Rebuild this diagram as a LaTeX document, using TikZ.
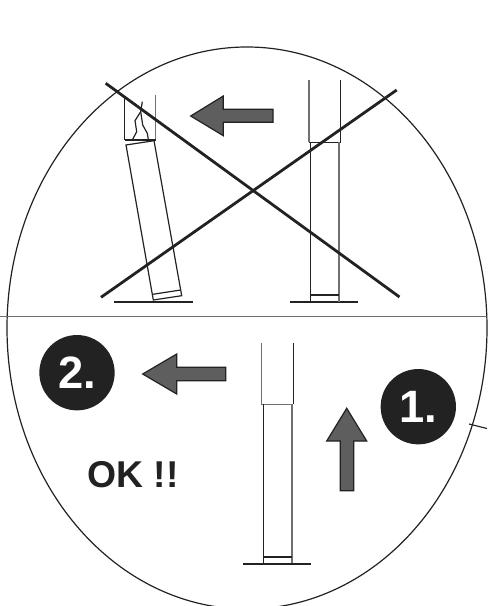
\documentclass[tikz,border=0pt]{standalone}
\usepackage{fontspec}
\setmainfont{Liberation Sans}
\usepackage{xcolor}
\usetikzlibrary{positioning}
\definecolor{inkdark}{HTML}{222222}
\definecolor{inkgray}{HTML}{707070}
\definecolor{arrowgray}{HTML}{5E5E5E}

\begin{document}
\begin{tikzpicture}[
    x=0.75pt,y=-0.75pt,
    thin line/.style  = {draw=inkdark,line width=0.9pt},
    gray line/.style  = {draw=inkgray,line width=1.05pt},
    cross/.style      = {draw=inkdark,line width=2.1pt},
    ground/.style     = {draw=inkdark,line width=1.4pt},
    bigarrow/.style   = {draw=inkdark,fill=arrowgray,line width=0.9pt,line join=miter},
    badge/.style      = {circle,fill=inkdark,text=white,font=\fontsize{34}{34}\selectfont\bfseries,
                         minimum size=56.5pt,inner sep=0pt},
    oktext/.style     = {font=\fontsize{28}{28}\selectfont\bfseries,text=inkdark},
  ]
  \useasboundingbox (0,0) rectangle (487,606);

  % -- frame --
  \draw[thin line] (247,328) ellipse [x radius=240,y radius=281];
  \draw[gray line,line width=1.4pt] (0,316.5) -- (487,316.5);
  \draw[thin line] (469,424) -- (487,428.5);

  % -- upper part, wrong way --
  \draw[ground] (114.3,301.7) -- (192.7,301.7);
  \draw[thin line] (126,145) -- (154,140.7) -- (181.7,295.7) -- (153.3,300) -- cycle;
  \draw[thin line] (152.7,294.3) -- (180.7,290);
  \draw[thin line] (124.7,98) -- (124.7,140);
  \draw[gray line] (155.7,95) -- (155.7,140);
  \draw[ground] (124.7,140) -- (155.7,140);
  \draw[thin line] (142.3,101.7) -- (140.7,111.7) -- (135,120.7) -- (136.7,131.7) -- (132.7,139.3);
  \draw[thin line] (140.7,111.7) -- (142.7,125) -- (147.3,133.3) -- (148.3,139.3);

  \draw[ground] (290,301.7) -- (358,301.7);
  \draw[gray line] (309,80) -- (309,142.3);
  \draw[thin line] (340.7,80) -- (340.7,142.3) -- (309,142.3);
  \draw[thin line] (310.7,142.3) -- (310.7,301.7);
  \draw[gray line] (339,142.3) -- (339,301.7);
  \draw[thin line] (310.7,295) -- (339,295);

  \draw[bigarrow] (190.7,116) -- (223.3,96) -- (223.3,109.3) -- (273,109.3)
    -- (273,122.3) -- (223.3,122.3) -- (223.3,135.7) -- cycle;

  \draw[cross] (105.7,83.3) -- (399.5,297);
  \draw[cross] (101,297.3) -- (396.7,90);

  % -- lower part, right way --
  \draw[gray line] (261.7,343) -- (261.7,404.3) -- (293.3,404.3);
  \draw[thin line] (293.3,343) -- (293.3,404.3);
  \draw[thin line] (263.3,404.3) -- (263.3,564);
  \draw[gray line] (292,404.3) -- (292,564);
  \draw[ground] (263.3,557.3) -- (292,557.3);
  \draw[ground] (242.7,564) -- (310.7,564);

  \draw[bigarrow] (142.7,374) -- (176.7,354) -- (176.7,367.3) -- (225.7,367.3)
    -- (225.7,380.7) -- (176.7,380.7) -- (176.7,394) -- cycle;
  \draw[bigarrow] (346.7,408.3) -- (366.7,441) -- (353.7,441) -- (353.7,490.7)
    -- (340.3,490.7) -- (340.3,441) -- (326.7,441) -- cycle;

  \node[badge] (stepone) at (418.3,406.7) {1.};
  \node[badge] (steptwo) at (77,372.7) {2.};
  \node[oktext] (oklabel) at (133,474.5) {OK !!};

\end{tikzpicture}
\end{document}
